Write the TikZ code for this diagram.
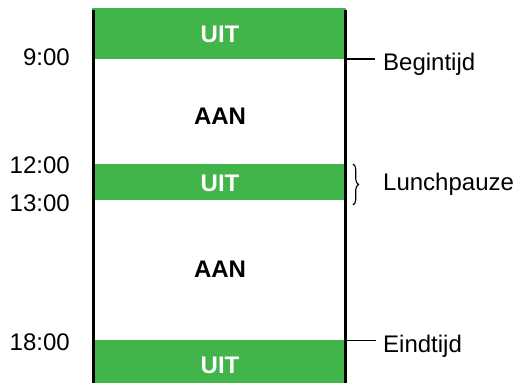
\documentclass[tikz,border=0pt]{standalone}
\usepackage{fontspec}
\setmainfont{Liberation Sans}
\usetikzlibrary{decorations.pathreplacing}
\definecolor{uitgreen}{RGB}{65,180,74}
\tikzset{
  bar/.style={fill=uitgreen, draw=none},
  uit/.style={font=\fontsize{24}{27}\selectfont\bfseries, text=white, anchor=base, inner sep=0pt},
  aan/.style={font=\fontsize{24}{27}\selectfont\bfseries, text=black, anchor=base, inner sep=0pt},
  tlabel/.style={font=\fontsize{24}{27}\selectfont, anchor=base east, inner sep=0pt},
  rlabel/.style={font=\fontsize{24}{27}\selectfont, anchor=base west, inner sep=0pt},
  edge/.style={line width=2.6pt, black},
  tick/.style={line width=1.2pt, black}
}
\begin{document}
\begin{tikzpicture}[x=1pt,y=-1pt]
\useasboundingbox (0,0) rectangle (516,383);
% green bars
\fill[bar] (92,8) rectangle (346,59);
\fill[bar] (92,164) rectangle (346,200);
\fill[bar] (92,340) rectangle (346,383);
% vertical edges
\draw[edge] (93.5,10) -- (93.5,383);
\draw[edge] (345.5,10) -- (345.5,383);
% texts in bars
\node[uit] (u1) at (220,42) {UIT};
\node[aan] (a1) at (220,124) {AAN};
\node[uit] (u2) at (220,191) {UIT};
\node[aan] (a2) at (220,277) {AAN};
\node[uit] (u3) at (220,373) {UIT};
% time labels
\node[tlabel] (t1) at (70,65) {9:00};
\node[tlabel] (t2) at (70,173) {12:00};
\node[tlabel] (t3) at (70,211) {13:00};
\node[tlabel] (t4) at (70,350) {18:00};
% ticks and labels on the right
\coordinate (b0) at (347,59);
\coordinate (b1) at (375,59);
\draw[tick] (b0) -- (b1);
\node[rlabel] (begin) at (383,70) {Begintijd};
\coordinate (e0) at (347,340.5);
\coordinate (e1) at (376,340.5);
\draw[tick] (e0) -- (e1);
\node[rlabel] (eind) at (383,352) {Eindtijd};
\coordinate (l0) at (353,164);
\coordinate (l1) at (353,205);
\draw[line width=1.1pt, decorate, decoration={brace, amplitude=5.5pt}] (l0) -- (l1);
\node[rlabel] (lunch) at (383,190) {Lunchpauze};
\end{tikzpicture}
\end{document}
